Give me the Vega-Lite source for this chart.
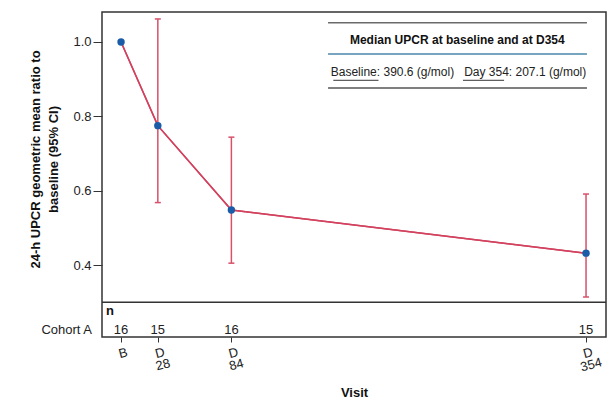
{
  "$schema": "https://vega.github.io/schema/vega-lite/v6.json",
  "width": 504,
  "height": 325,
  "autosize": "none",
  "padding": {"left": 102, "top": 12, "right": 2, "bottom": 61},
  "background": "white",
  "config": {
    "aria": false,
    "font": "Liberation Sans",
    "view": {"stroke": "#333333", "strokeWidth": 1.5},
    "axis": {"grid": false, "domain": false},
    "style": {"guide-title": {"lineBreak": "\n"}}
  },
  "data": {
    "values": [
      {"visit": "B", "day": 0, "ratio": 1.0, "lo": null, "hi": null, "n": 16},
      {"visit": "D 28", "day": 28, "ratio": 0.775, "lo": 0.568, "hi": 1.062, "n": 15},
      {"visit": "D 84", "day": 84, "ratio": 0.548, "lo": 0.405, "hi": 0.744, "n": 16},
      {"visit": "D 354", "day": 354, "ratio": 0.432, "lo": 0.314, "hi": 0.591, "n": 15}
    ]
  },
  "layer": [
    {
      "mark": {"type": "line", "color": "#d2425e", "strokeWidth": 1.5},
      "encoding": {
        "x": {
          "field": "day", "type": "quantitative",
          "scale": {"domain": [-14.5, 369.2], "nice": false, "zero": false},
          "axis": {
            "values": [0, 28, 84, 354],
            "labelExpr": "datum.value == 0 ? 'B' : ['D', '' + datum.value]",
            "labelAngle": -15, "labelAlign": "center", "labelBaseline": "top",
            "labelPadding": 5, "labelFontSize": 13, "labelLineHeight": 12,
            "labelColor": "#222222", "labelFlush": false, "labelOverlap": false,
            "tickSize": 5, "tickColor": "#333333",
            "title": "Visit", "titleFontSize": 13, "titleFontWeight": "bold",
            "titleColor": "#111111", "titleBaseline": "middle", "titleY": 55
          }
        },
        "y": {
          "field": "ratio", "type": "quantitative",
          "scale": {"domain": [0.2064, 1.0807], "nice": false, "zero": false},
          "axis": {
            "values": [0.4, 0.6, 0.8, 1.0], "format": ".1f",
            "labelFontSize": 13, "labelColor": "#222222", "labelPadding": 2,
            "tickSize": 9, "tickColor": "#333333",
            "title": "24-h UPCR geometric mean ratio to\nbaseline (95% CI)",
            "titleFontSize": 13, "titleFontWeight": "bold", "titleColor": "#111111",
            "titleLineHeight": 18, "titleX": -60, "titleY": 147, "titleBaseline": "bottom", "titleAngle": -90
          }
        }
      }
    },
    {
      "transform": [{"filter": "datum.lo != null"}],
      "mark": {"type": "rule", "color": "#d9506a", "strokeWidth": 1.5},
      "encoding": {
        "x": {"field": "day", "type": "quantitative"},
        "y": {"field": "lo", "type": "quantitative"},
        "y2": {"field": "hi"}
      }
    },
    {
      "transform": [{"filter": "datum.lo != null"}],
      "mark": {"type": "tick", "orient": "horizontal", "size": 6, "thickness": 1.5, "color": "#d9506a", "opacity": 1},
      "encoding": {
        "x": {"field": "day", "type": "quantitative"},
        "y": {"field": "lo", "type": "quantitative"}
      }
    },
    {
      "transform": [{"filter": "datum.hi != null"}],
      "mark": {"type": "tick", "orient": "horizontal", "size": 6, "thickness": 1.5, "color": "#d9506a", "opacity": 1},
      "encoding": {
        "x": {"field": "day", "type": "quantitative"},
        "y": {"field": "hi", "type": "quantitative"}
      }
    },
    {
      "mark": {"type": "line", "color": "#d2425e", "strokeWidth": 1.5},
      "encoding": {
        "x": {"field": "day", "type": "quantitative"},
        "y": {"field": "ratio", "type": "quantitative"}
      }
    },
    {
      "mark": {"type": "point", "filled": true, "shape": "circle", "size": 55, "color": "#1a5ca8", "opacity": 1},
      "encoding": {
        "x": {"field": "day", "type": "quantitative"},
        "y": {"field": "ratio", "type": "quantitative"}
      }
    },
    {
      "data": {"values": [{"line": "separator"}]},
      "mark": {"type": "rule", "color": "#333333", "strokeWidth": 1.5},
      "encoding": {"y": {"datum": 0.30}}
    },
    {
      "mark": {"type": "text", "fontSize": 13, "color": "#222222", "baseline": "middle", "align": "center"},
      "encoding": {
        "x": {"field": "day", "type": "quantitative"},
        "y": {"datum": 0.2252},
        "text": {"field": "n"}
      }
    },
    {
      "data": {"values": [{"label": "n"}]},
      "mark": {"type": "text", "fontSize": 13, "fontWeight": "bold", "color": "#111111", "baseline": "middle", "align": "left", "dx": 4},
      "encoding": {
        "x": {"datum": -14.5},
        "y": {"datum": 0.2763},
        "text": {"field": "label"}
      }
    },
    {
      "data": {"values": [{"label": "Cohort A"}]},
      "mark": {"type": "text", "fontSize": 13, "color": "#222222", "baseline": "middle", "align": "right", "dx": -10, "clip": false},
      "encoding": {
        "x": {"datum": -14.5},
        "y": {"datum": 0.2252},
        "text": {"field": "label"}
      }
    },
    {
      "data": {"values": [{"line": "top"}]},
      "mark": {"type": "rule", "color": "#6a6a6a", "strokeWidth": 1.5},
      "encoding": {
        "x": {"datum": 157.6}, "x2": {"datum": 354.7},
        "y": {"datum": 1.052}
      }
    },
    {
      "data": {"values": [{"line": "middle"}]},
      "mark": {"type": "rule", "color": "#4a86a8", "strokeWidth": 1.5},
      "encoding": {
        "x": {"datum": 157.6}, "x2": {"datum": 354.7},
        "y": {"datum": 0.968}
      }
    },
    {
      "data": {"values": [{"line": "bottom"}]},
      "mark": {"type": "rule", "color": "#555555", "strokeWidth": 1.5},
      "encoding": {
        "x": {"datum": 157.6}, "x2": {"datum": 354.7},
        "y": {"datum": 0.876}
      }
    },
    {
      "data": {"values": [{"label": "Median UPCR at baseline and at D354"}]},
      "mark": {"type": "text", "fontSize": 12, "fontWeight": "bold", "color": "#111111", "baseline": "middle", "align": "center"},
      "encoding": {
        "x": {"datum": 256},
        "y": {"datum": 1.005},
        "text": {"field": "label"}
      }
    },
    {
      "data": {"values": [{"label": "Baseline: 390.6 (g/mol)\u00a0\u00a0 Day 354: 207.1 (g/mol)"}]},
      "mark": {"type": "text", "fontSize": 12, "color": "#222222", "baseline": "middle", "align": "center"},
      "encoding": {
        "x": {"datum": 256.9},
        "y": {"datum": 0.919},
        "text": {"field": "label"}
      }
    },
    {
      "data": {"values": [{"word": "Baseline:"}]},
      "mark": {"type": "rule", "color": "#333333", "strokeWidth": 1},
      "encoding": {
        "x": {"datum": 161.6}, "x2": {"datum": 196},
        "y": {"datum": 0.897}
      }
    },
    {
      "data": {"values": [{"word": "Day 354:"}]},
      "mark": {"type": "rule", "color": "#333333", "strokeWidth": 1},
      "encoding": {
        "x": {"datum": 260.3}, "x2": {"datum": 291.6},
        "y": {"datum": 0.897}
      }
    }
  ]
}
